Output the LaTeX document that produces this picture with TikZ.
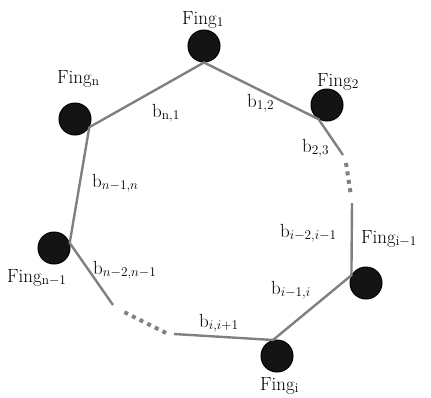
\RequirePackage{fix-cm}
\documentclass[tikz,border=0pt]{standalone}
\usepackage{fontspec}
\setmainfont{Latin Modern Roman}
\newcommand{\labfont}{\fontsize{19}{23}\selectfont}
\begin{document}
\begin{tikzpicture}[x=1pt,y=-1pt,
  fing/.style={circle,draw=black,line width=1pt,fill=black!92,minimum size=32pt,inner sep=0pt},
  lab/.style={inner sep=0pt,anchor=base west,font=\labfont},
  edge/.style={draw=black!50,line width=2.4pt},
  dots/.style={draw=black!50,line width=4pt,dash pattern=on 4pt off 4.5pt}]
\useasboundingbox (0,0) rectangle (431,397);
% fingers
\node[fing] (f1) at (204,46) {};
\node[fing] (f2) at (327,105) {};
\node[fing] (fn) at (75,119) {};
\node[fing] (fn1) at (54,248) {};
\node[fing] (fi1) at (366,283) {};
\node[fing] (fi) at (277,356) {};
% break points
\coordinate (a1) at (343,155);
\coordinate (a2) at (346,163);
\coordinate (a3) at (351,196);
\coordinate (a4) at (352,203);
\coordinate (c1) at (113,305);
\coordinate (c2) at (122,311);
\coordinate (c3) at (166,333);
\coordinate (c4) at (174,334);
% edges
\draw[edge] (fn.-30) -- (f1.south) -- (f2.239) -- (a1);
\draw[dots] (a2) -- (a3);
\draw[edge] (a4) -- (fi1.152) -- (fi.104) -- (c4);
\draw[dots] (c3) -- (c2);
\draw[edge] (c1) -- (fn1.18) -- (fn.-30);
% finger labels
\node[lab] (lf1) at (182,24) {Fing$_{\mathrm{1}}$};
\node[lab] (lf2) at (317,86) {Fing$_{\mathrm{2}}$};
\node[lab] (lfn) at (57,83) {Fing$_{\mathrm{n}}$};
\node[lab] (lfn1) at (7,282) {Fing$_{\mathrm{n-1}}$};
\node[lab] (lfi1) at (361,243) {Fing$_{\mathrm{i-1}}$};
\node[lab] (lfi) at (260,390) {Fing$_{\mathrm{i}}$};
% edge labels
\node[lab] (bn1) at (152,117) {b$_{\mathrm{n,1}}$};
\node[lab] (b12) at (247,107) {b$_{\mathrm{1,2}}$};
\node[lab] (b23) at (302,152) {b$_{\mathrm{2,3}}$};
\node[lab] (bn1n) at (92,187) {b$_{n-1,n}$};
\node[lab] (bi2i1) at (280,237) {b$_{i-2,i-1}$};
\node[lab] (bn2n1) at (93,274) {b$_{n-2,n-1}$};
\node[lab] (bi1i) at (271,294) {b$_{i-1,i}$};
\node[lab] (bii1) at (199,327) {b$_{i,i+1}$};
\end{tikzpicture}
\end{document}
